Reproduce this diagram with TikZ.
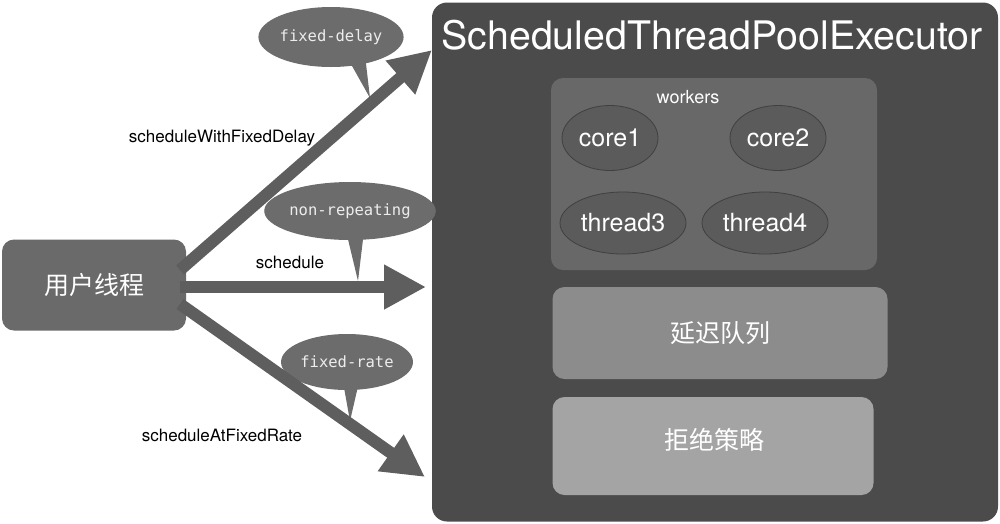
\documentclass[tikz,border=0pt]{standalone}
\usepackage{fontspec}
\setmainfont{TeX Gyre Heros}
\newfontfamily\cjkf{Noto Sans CJK SC}
\newfontfamily\monof{DejaVu Sans Mono}
\usetikzlibrary{shapes.geometric,arrows.meta,calc}
\definecolor{cexec}{HTML}{4B4B4B}
\definecolor{cwork}{HTML}{686868}
\definecolor{cell}{HTML}{5B5B5B}
\definecolor{celld}{HTML}{404040}
\definecolor{cdelay}{HTML}{8C8C8C}
\definecolor{creject}{HTML}{A4A4A4}
\definecolor{cuser}{HTML}{6A6A6A}
\definecolor{carrow}{HTML}{5E5E5E}
\definecolor{cbub}{HTML}{6C6C6C}
\definecolor{cbubtxt}{HTML}{EDEDED}
\tikzset{
  rbox/.style={rectangle, rounded corners=13pt, inner sep=0pt},
  worker/.style={ellipse, fill=cell, draw=celld, line width=0.8pt, inner sep=0pt,
     text=white, font=\fontsize{25}{28}\selectfont},
  bubble/.style={ellipse, fill=cbub, inner sep=0pt, text=cbubtxt, font=\monof\fontsize{15.5}{17}\selectfont},
  bigarrow/.style={draw=carrow, line width=12pt, -{Triangle[length=42pt,width=42pt]}, fill=carrow},
  lbl/.style={text=black, font=\fontsize{17}{20}\selectfont, inner sep=0pt},
  cjk/.style={text=white, font=\cjkf\fontsize{25}{28}\selectfont}
}
\begin{document}
\begin{tikzpicture}[x=1pt,y=-1pt]
\useasboundingbox (0,0) rectangle (1000,523);
% executor container
\node[rbox, rounded corners=15pt, fill=cexec, minimum width=566pt, minimum height=519pt] (exec) at (715,262) {};
\node[text=white, font=\fontsize{39.3}{42}\selectfont, inner sep=0pt] (title) at (712,35) {ScheduledThreadPoolExecutor};
% workers
\node[rbox, rounded corners=12pt, fill=cwork, minimum width=326pt, minimum height=192pt] (workers) at (714,174) {};
\node[text=white, font=\fontsize{18}{20}\selectfont, inner sep=0pt] (wlbl) at (688,97) {workers};
\node[worker, minimum width=96pt, minimum height=65pt] (core1) at (610,138) {core1};
\node[worker, minimum width=96pt, minimum height=65pt] (core2) at (778,138) {core2};
\node[worker, minimum width=126pt, minimum height=62pt] (thread3) at (623,223) {thread3};
\node[worker, minimum width=126pt, minimum height=62pt] (thread4) at (765,223) {thread4};
% queue and policy
\node[rbox, rounded corners=12pt, fill=cdelay, minimum width=335pt, minimum height=92pt, cjk] (delay) at (720,333) {延迟队列};
\node[rbox, rounded corners=12pt, fill=creject, minimum width=321pt, minimum height=98pt] (reject) at (713,446) {};
\node[cjk] (rejtxt) at (714,440) {拒绝策略};
% user thread
\node[rbox, rounded corners=12pt, fill=cuser, minimum width=184pt, minimum height=91pt, cjk] (user) at (94,285) {用户线程};
% bubbles
\node[bubble, minimum width=113pt, minimum height=60pt] (b1) at (331,37) {fixed-delay};
\coordinate (b1t) at (370,98);
\fill[cbub] ($(b1)+(16,20)$) -- (b1t) -- ($(b1)+(34,18)$) -- cycle;
\node[bubble, minimum width=150pt, minimum height=58pt] (b2) at (350,211) {non-repeating};
\coordinate (b2t) at (358,281);
\fill[cbub] ($(b2)+(-4,20)$) -- (b2t) -- ($(b2)+(14,20)$) -- cycle;
\node[bubble, minimum width=120pt, minimum height=56pt] (b3) at (347,362) {fixed-rate};
\coordinate (b3t) at (350,421);
\fill[cbub] ($(b3)+(-4,20)$) -- (b3t) -- ($(b3)+(12,20)$) -- cycle;
% arrows
\coordinate (s1) at (180,270);
\coordinate (s2) at (180,287);
\coordinate (s3) at (180,304);
\coordinate (e1) at (432,50);
\coordinate (e2) at (426,287);
\coordinate (e3) at (425,477);
\draw[bigarrow] (s1) -- (e1);
\draw[bigarrow] (s2) -- (e2);
\draw[bigarrow] (s3) -- (e3);
% labels
\node[lbl] (l1) at (222,138) {scheduleWithFixedDelay};
\node[lbl] (l2) at (290,262) {schedule};
\node[lbl] (l3) at (222,435) {scheduleAtFixedRate};
\end{tikzpicture}
\end{document}
